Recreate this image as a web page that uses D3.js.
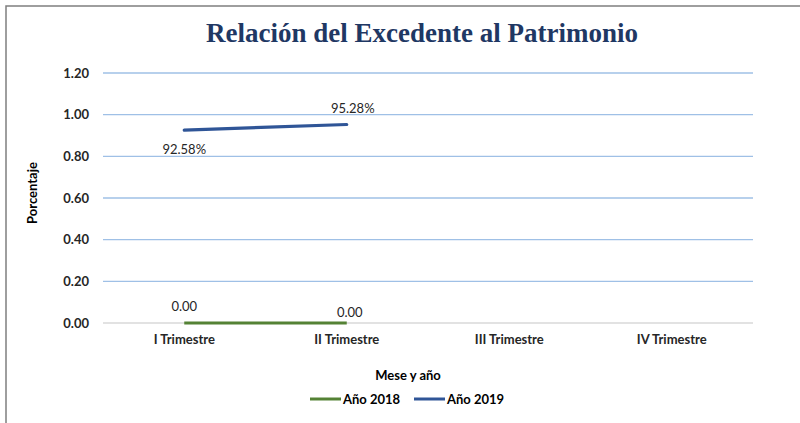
<!DOCTYPE html>
<html>
<head>
<meta charset="utf-8">
<script src="https://cdn.jsdelivr.net/npm/d3@7"></script>
<style>
  body { margin: 0; background: #fff; }
  svg text { font-family: Lato, "Open Sans", sans-serif; }
</style>
</head>
<body>
<div id="svg"></div>
<script>
var categories = ["I Trimestre", "II Trimestre", "III Trimestre", "IV Trimestre"];
var yTicks = [0, 0.2, 0.4, 0.6, 0.8, 1.0, 1.2];
var series2018 = [0.00, 0.00];
var series2019 = [0.9258, 0.9528];
var labels2018 = ["0.00", "0.00"];
var labels2019 = ["92.58%", "95.28%"];

var width = 800, height = 423;
var svg = d3.select("#svg").append("svg")
    .attr("width", width)
    .attr("height", height);

// outer frame (only top and left visible)
svg.append("path")
    .attr("d", "M6,423 V6 H800")
    .attr("fill", "none")
    .attr("stroke", "#7f7f7f")
    .attr("stroke-width", 1.5);

var x = d3.scaleBand().domain(categories).range([103, 753]);
var y = d3.scaleLinear().domain([0, 1.2]).range([323, 73]);

// gridlines
svg.selectAll(".grid")
    .data(yTicks)
    .enter()
    .append("line")
    .attr("x1", 103).attr("x2", 753)
    .attr("y1", function(d) { return y(d); })
    .attr("y2", function(d) { return y(d); })
    .attr("stroke", function(d) { return d === 0 ? "#d9d9d9" : "#9fc0e6"; })
    .attr("stroke-width", 1.3);

// y axis labels
var yAxis = svg.append("g")
    .attr("transform", "translate(103,0)")
    .call(d3.axisLeft(y).tickValues(yTicks).tickFormat(d3.format(".2f")).tickSize(0).tickPadding(14));
yAxis.select(".domain").remove();
yAxis.selectAll("text")
    .attr("font-size", 13)
    .attr("font-weight", "bold")
    .attr("fill", "#262626")
    .style("font-family", "Lato, sans-serif");

// x axis labels
var xAxis = svg.append("g")
    .attr("transform", "translate(0,323)")
    .call(d3.axisBottom(x).tickSize(0).tickPadding(12));
xAxis.select(".domain").remove();
xAxis.selectAll("text")
    .attr("font-size", 13)
    .attr("font-weight", "bold")
    .attr("fill", "#262626")
    .style("font-family", "Lato, sans-serif");

// title
svg.append("text")
    .attr("x", 422).attr("y", 42)
    .attr("text-anchor", "middle")
    .attr("font-size", 27)
    .attr("font-weight", "bold")
    .attr("fill", "#1f3864")
    .style("font-family", "'Liberation Serif', 'Times New Roman', serif")
    .text("Relación del Excedente al Patrimonio");

// axis titles
svg.append("text")
    .attr("transform", "translate(37,193) rotate(-90)")
    .attr("text-anchor", "middle")
    .attr("font-size", 13)
    .attr("font-weight", "bold")
    .attr("fill", "#000")
    .text("Porcentaje");

svg.append("text")
    .attr("x", 408).attr("y", 380)
    .attr("text-anchor", "middle")
    .attr("font-size", 13)
    .attr("font-weight", "bold")
    .attr("fill", "#000")
    .text("Mese y año");

var line = d3.line()
    .x(function(d, i) { return x(categories[i]) + x.bandwidth() / 2; })
    .y(function(d) { return y(d); });

svg.append("path")
    .datum(series2018)
    .attr("d", line)
    .attr("fill", "none")
    .attr("stroke", "#548235")
    .attr("stroke-width", 3.2);

svg.append("path")
    .datum(series2019)
    .attr("d", line)
    .attr("fill", "none")
    .attr("stroke", "#2f5597")
    .attr("stroke-width", 3.2)
    .attr("stroke-linecap", "round");

// data labels
var off2018 = [{dx: 0, dy: -12}, {dx: 3, dy: -6}];
var off2019 = [{dx: 0, dy: 24}, {dx: 6, dy: -12}];

svg.selectAll(".lab18")
    .data(series2018)
    .enter()
    .append("text")
    .attr("x", function(d, i) { return x(categories[i]) + x.bandwidth() / 2 + off2018[i].dx; })
    .attr("y", function(d, i) { return y(d) + off2018[i].dy; })
    .attr("text-anchor", "middle")
    .attr("font-size", 13)
    .attr("fill", "#262626")
    .text(function(d, i) { return labels2018[i]; });

svg.selectAll(".lab19")
    .data(series2019)
    .enter()
    .append("text")
    .attr("x", function(d, i) { return x(categories[i]) + x.bandwidth() / 2 + off2019[i].dx; })
    .attr("y", function(d, i) { return y(d) + off2019[i].dy; })
    .attr("text-anchor", "middle")
    .attr("font-size", 13)
    .attr("fill", "#262626")
    .text(function(d, i) { return labels2019[i]; });

// legend
var legend = [
    {name: "Año 2018", color: "#548235", x: 310},
    {name: "Año 2019", color: "#2f5597", x: 414}
];
var lg = svg.selectAll(".legend")
    .data(legend)
    .enter()
    .append("g")
    .attr("transform", function(d) { return "translate(" + d.x + ",399)"; });
lg.append("line")
    .attr("x1", 0).attr("x2", 31)
    .attr("stroke", function(d) { return d.color; })
    .attr("stroke-width", 3);
lg.append("text")
    .attr("x", 33).attr("y", 4.5)
    .attr("font-size", 13)
    .attr("font-weight", "bold")
    .attr("fill", "#000")
    .text(function(d) { return d.name; });
</script>
</body>
</html>
